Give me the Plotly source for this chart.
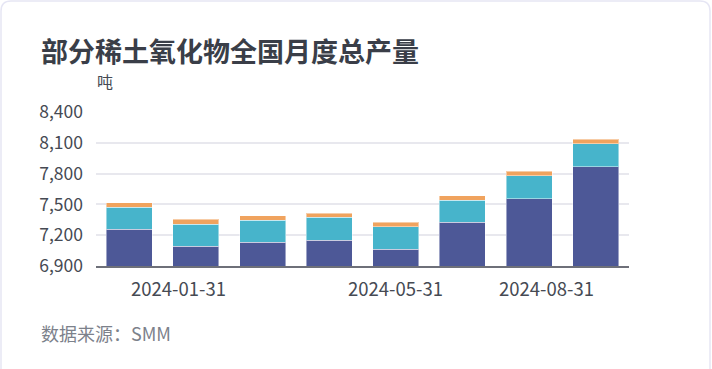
import plotly.graph_objects as go

dates = ["2024-01-31", "2024-02-29", "2024-03-31", "2024-04-30",
         "2024-05-31", "2024-06-30", "2024-07-31", "2024-08-31"]
series_names = ["氧化镨钕", "氧化镝", "氧化铽"]
s1 = [7257, 7094, 7130, 7153, 7065, 7328, 7554, 7865]
s2 = [214, 214, 217, 220, 217, 213, 224, 224]
s3 = [44, 46, 42, 42, 43, 42, 45, 45]
x_labels = ["2024-01-31", "2024-05-31", "2024-08-31"]
x_label_anchor = ["left", "center", "right"]
y_ticks = [6900, 7200, 7500, 7800, 8100, 8400]

colors = ["#4d5897", "#47b4cb", "#f0a35e"]
W, H = 712, 369
L, R, T, B = 96, 83, 112, 103
FONT = "Noto Sans CJK SC, Noto Sans, sans-serif"

fig = go.Figure()
for name, vals, c in zip(series_names, [s1, s2, s3], colors):
    fig.add_trace(go.Bar(
        x=dates, y=vals, name=name, marker_color=c,
        marker_line=dict(color="rgba(255,255,255,0.45)", width=1),
        showlegend=False,
    ))

pw, ph = W - L - R, H - T - B
def px(x):
    return (x - L) / pw
def py(y):
    return (H - B - y) / ph

# rounded card border
x0, x1, y0, y1, r = 1, 710, 1, 380, 10
rx, ry = r / pw, r / ph
path = (f"M {px(x0)+rx},{py(y0)} L {px(x1)-rx},{py(y0)} "
        f"Q {px(x1)},{py(y0)} {px(x1)},{py(y0)-ry} "
        f"L {px(x1)},{py(y1)} L {px(x0)},{py(y1)} "
        f"L {px(x0)},{py(y0)-ry} Q {px(x0)},{py(y0)} {px(x0)+rx},{py(y0)} Z")

annotations = [
    dict(text="<b>部分稀土氧化物全国月度总产量</b>", xref="paper", yref="paper",
         x=px(39), y=py(50), xanchor="left", yanchor="middle", showarrow=False,
         font=dict(size=27, color="#3a3e48")),
    dict(text="吨", xref="paper", yref="paper",
         x=px(105), y=py(81), xanchor="center", yanchor="middle", showarrow=False,
         font=dict(size=16, color="#464a53")),
    dict(text="数据来源：SMM", xref="paper", yref="paper",
         x=px(39), y=py(333), xanchor="left", yanchor="middle", showarrow=False,
         font=dict(size=18, color="#7c818b")),
]
for lab, anc in zip(x_labels, x_label_anchor):
    annotations.append(dict(
        text=lab, xref="x", yref="paper", x=lab, y=py(288),
        xanchor=anc, yanchor="middle", showarrow=False,
        font=dict(size=18.5, color="#464a53"),
    ))

fig.update_layout(
    width=W, height=H,
    margin=dict(l=L, r=R, t=T, b=B),
    paper_bgcolor="white", plot_bgcolor="white",
    barmode="stack", bargap=0.31,
    hovermode=False,
    font=dict(family=FONT, color="#464a53"),
    shapes=[dict(type="path", xref="paper", yref="paper", path=path,
                 line=dict(color="#e6e6f4", width=1.5), layer="below")],
    annotations=annotations,
)
fig.update_xaxes(
    type="category", showticklabels=False,
    showline=True, linecolor="#6e7079", linewidth=1.5, ticks="",
    showgrid=False,
)
fig.update_yaxes(
    range=[6900, 8400], tickvals=y_ticks, tickformat=",",
    showgrid=True, gridcolor="#e8e8ee", gridwidth=1.5, zeroline=False,
    tickfont=dict(size=17.5, color="#464a53"), ticks="",
    showline=False, ticklabelstandoff=12,
)

fig.write_html("out.html", config={"displayModeBar": False},
               post_script="document.body.style.margin='0';")
